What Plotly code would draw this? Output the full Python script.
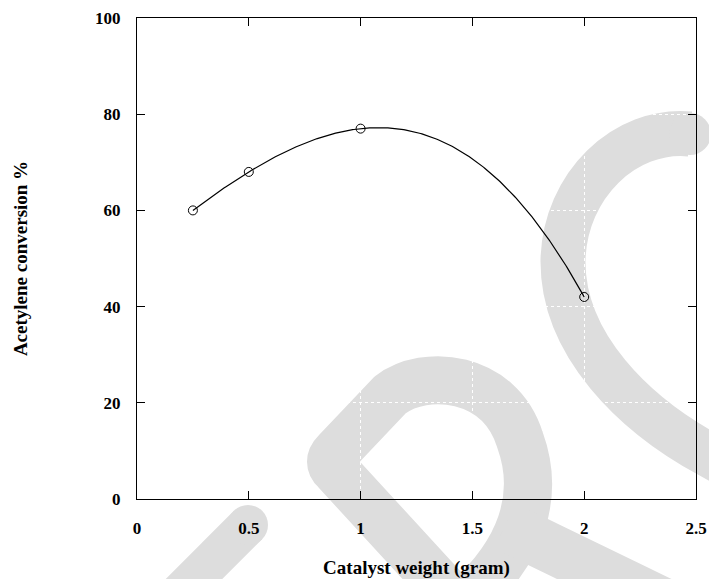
import numpy as np
import plotly.graph_objects as go

# ---- data ----
catalyst_weight = [0.25, 0.5, 1.0, 2.0]
conversion = [60, 68, 77, 42]
x_ticks = [0, 0.5, 1, 1.5, 2, 2.5]
y_ticks = [0, 20, 40, 60, 80, 100]

# fitted cubic trend through the measured points
coef = np.polyfit(catalyst_weight, conversion, 3)
xs = np.linspace(min(catalyst_weight), max(catalyst_weight), 300)
ys = np.polyval(coef, xs)

fig = go.Figure()
fig.add_trace(go.Scatter(x=xs, y=ys, mode="lines",
                         line=dict(color="black", width=1.2),
                         hoverinfo="skip", showlegend=False))
fig.add_trace(go.Scatter(x=catalyst_weight, y=conversion, mode="markers",
                         marker=dict(symbol="circle-open", size=9, color="black",
                                     line=dict(width=1, color="black")),
                         showlegend=False))

# ---- background watermark (decoration, drawn in page pixels) ----
W, H = 709, 579
L, R, T, B = 137, 696, 18, 499
PW, PH = R - L, B - T


def px(x, y):
    return (x - L) / PW, (B - y) / PH


def path(cmds):
    out = []
    for c in cmds:
        if isinstance(c, str):
            out.append(c)
        else:
            a, b = px(*c)
            out.append(f"{a:.5f},{b:.5f}")
    return " ".join(out)


GREY = "rgb(221,221,221)"
shapes = []


def stroke(cmds, width):
    shapes.append(dict(type="path", xref="paper", yref="paper", layer="below",
                       path=path(cmds), line=dict(color=GREY, width=width),
                       fillcolor="rgba(0,0,0,0)"))


def dot(cx, cy, r):
    x0, y0 = px(cx - r, cy + r)
    x1, y1 = px(cx + r, cy - r)
    shapes.append(dict(type="circle", xref="paper", yref="paper", layer="below",
                       x0=x0, y0=y0, x1=x1, y1=y1, fillcolor=GREY,
                       line=dict(width=0)))


# left short stroke
stroke(["M", (170, 603), "L", (248, 525)], 40)
dot(248, 525, 20)
# R-like loop
stroke(["M", (491, 640), "L", (336, 471), "Q", (326, 462), (336, 452), "L", (390, 395),
        "C", (425, 368), (500, 375), (520, 440),
        "C", (540, 495), (522, 545), (478, 590)], 48)
stroke(["M", (505, 526), "L", (740, 640)], 50)
# C-like arc
stroke(["M", (690, 134), "C", (625, 128), (565, 185), (563, 260),
        "C", (562, 345), (635, 415), (709, 455), "L", (780, 495)], 45)
dot(690, 134, 21)

FONT = "Liberation Serif"

fig.update_layout(
    width=W, height=H,
    margin=dict(l=L, r=W - R, t=T, b=H - B),
    paper_bgcolor="white", plot_bgcolor="white",
    shapes=shapes,
    font=dict(family=FONT, color="black", size=17, weight="bold"),
    xaxis=dict(range=[0, 2.5], tickvals=x_ticks, ticktext=[f"{v:g}" for v in x_ticks],
               ticks="inside", ticklen=8, tickwidth=1, tickcolor="black",
               showline=True, linecolor="black", linewidth=1.3, mirror="allticks",
               showgrid=True, gridcolor="white", griddash="dot", gridwidth=1,
               zeroline=False, ticklabelstandoff=13, automargin=False,
               tickfont=dict(family=FONT, size=17, weight="bold"),
               title=dict(text="Catalyst weight (gram)", standoff=24,
                          font=dict(family=FONT, size=19, weight="bold"))),
    yaxis=dict(range=[0, 100], tickvals=y_ticks, ticktext=[str(v) for v in y_ticks],
               ticks="inside", ticklen=8, tickwidth=1, tickcolor="black",
               showline=True, linecolor="black", linewidth=1.3, mirror="allticks",
               showgrid=True, gridcolor="white", griddash="dot", gridwidth=1,
               zeroline=False, ticklabelstandoff=12, automargin=False,
               tickfont=dict(family=FONT, size=17, weight="bold"),
               title=dict(text="Acetylene conversion %", standoff=62,
                          font=dict(family=FONT, size=19, weight="bold"))),
)

fig.write_html("out.html")
